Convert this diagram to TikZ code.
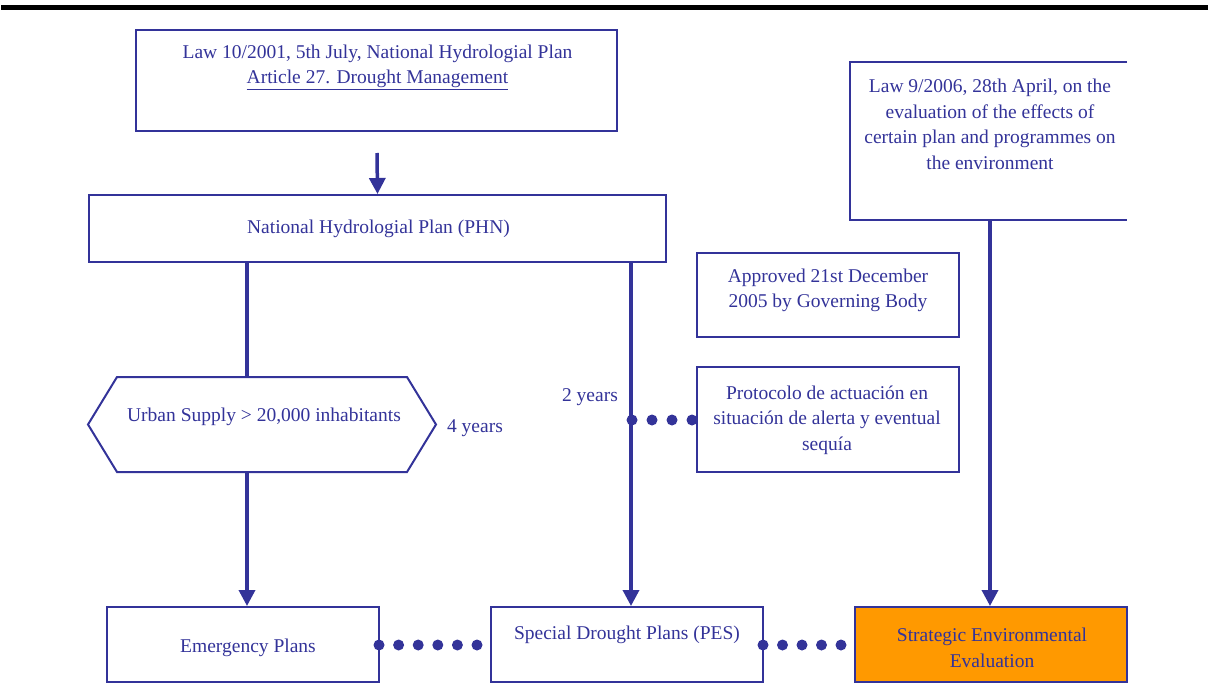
\documentclass[tikz,border=0pt]{standalone}
\usepackage{fontspec}
\setmainfont{Liberation Serif}
\usetikzlibrary{arrows.meta}
\definecolor{navy}{HTML}{333399}
\definecolor{orng}{HTML}{FF9900}
\begin{document}
\begin{tikzpicture}[x=1pt,y=-1pt,
  box/.style={draw=navy,line width=2pt,inner sep=0pt},
  txt/.style={text=navy,font=\fontsize{19.5}{25.5}\selectfont,align=center,inner sep=0pt},
  conn/.style={draw=navy,line width=3.5pt},
  arr/.style={conn,-{Triangle[length=16pt,width=16pt]}},
  dotn/.style={circle,fill=navy,inner sep=0pt,minimum size=11pt}]
\useasboundingbox (0,0) rectangle (1208,699);
% top bar
\fill[black] (1,5) rectangle (1208,10);
% boxes
\node[box,minimum width=481pt,minimum height=101pt] (lawA) at (376.5,80.5) {};
\node[txt] (lawAtxt) at (377.5,67.5) {Law 10/2001, 5th July, National Hydrologial Plan\\\underline{Article 27. Drought Management}};
\node[box,minimum width=577pt,minimum height=67pt] (phn) at (377.5,228.5) {};
\node[txt] (phntxt) at (378.5,229) {National Hydrologial Plan (PHN)};
\node[box,minimum width=262pt,minimum height=84pt] (appr) at (828,295) {};
\node[txt] (apprtxt) at (828,290.5) {Approved 21st December\\2005 by Governing Body};
\node[box,minimum width=262pt,minimum height=105pt] (prot) at (828,419.5) {};
\node[txt] (prottxt) at (827,420) {Protocolo de actuación en\\situación de alerta y eventual\\sequía};
% law 9/2006 open box
\coordinate (lawBtr) at (1127,62);
\coordinate (lawBbr) at (1127,220);
\draw[navy,line width=2pt] (lawBtr) -- (850,62) -- (850,220) -- (lawBbr);
\node[txt] (lawBtxt) at (990,124.5) {Law 9/2006, 28th April, on the\\evaluation of the effects of\\certain plan and programmes on\\the environment};
% hexagon
\coordinate (hexT) at (247,377);
\coordinate (hexB) at (247,472);
\draw[navy,line width=2pt] (88,424.5) -- (117,377) -- (407,377) -- (436,424.5) -- (407,472) -- (117,472) -- cycle;
\node[txt] (hextxt) at (264,417) {Urban Supply > 20,000 inhabitants};
\node[txt] (four) at (475,428) {4 years};
\node[txt] (two) at (590,397) {2 years};
% bottom boxes
\node[box,minimum width=272pt,minimum height=75pt] (emerg) at (243,644.5) {};
\node[txt] (emergtxt) at (248,648) {Emergency Plans};
\node[box,minimum width=272pt,minimum height=75pt] (spec) at (627,644.5) {};
\node[txt] (spectxt) at (627,635) {Special Drought Plans (PES)};
\node[box,fill=orng,minimum width=272pt,minimum height=75pt] (strat) at (991,644.5) {};
\node[txt] (strattxt) at (992,648) {Strategic Environmental\\Evaluation};
% connectors
\coordinate (a0) at (377,153);
\draw[arr] (a0) -- (phn.north);
\draw[conn] (phn.south -| hexT) -- (hexT);
\draw[arr] (hexB) -- (hexB |- emerg.north);
\coordinate (sdx) at (631,0);
\draw[arr] (phn.south -| sdx) -- (spec.north -| sdx);
\coordinate (lawBbot) at (990,220);
\draw[arr] (lawBbot) -- (lawBbot |- strat.north);
% dotted links
\foreach \i in {0,...,3} \node[dotn] (pd\i) at (632+20*\i,420) {};
\foreach \i in {0,...,5} \node[dotn] (ed\i) at (379+19.6*\i,645) {};
\foreach \i in {0,...,4} \node[dotn] (sd\i) at (763+19.5*\i,645) {};
\end{tikzpicture}
\end{document}
